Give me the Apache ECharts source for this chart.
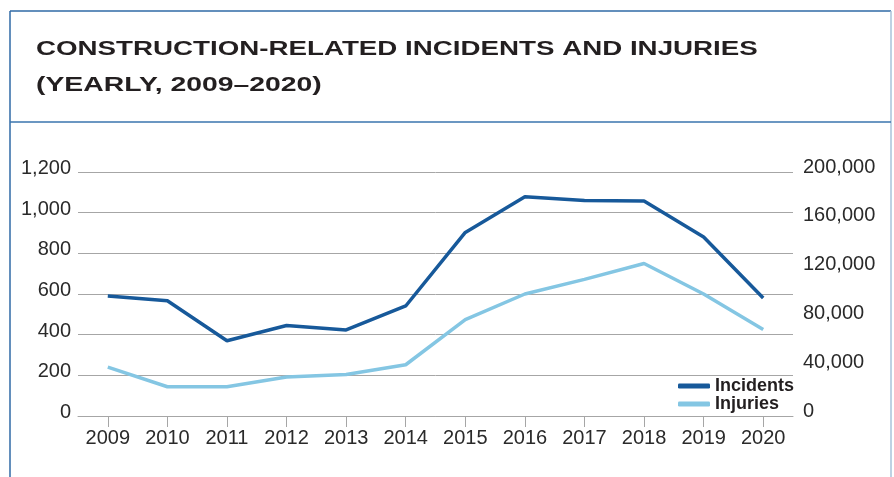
<!DOCTYPE html>
<html>
<head>
<meta charset="utf-8">
<title>Construction-related incidents and injuries</title>
<script src="https://cdn.jsdelivr.net/npm/echarts@6/dist/echarts.min.js"></script>
<style>
  html, body { margin: 0; padding: 0; background: #fff; }
  #chart { width: 894px; height: 477px; }
</style>
</head>
<body>
<div id="chart"></div>
<script>
// data
const years = ['2009', '2010', '2011', '2012', '2013', '2014', '2015', '2016', '2017', '2018', '2019', '2020'];
const incidents = [590, 567, 370, 445, 423, 541, 903, 1078, 1060, 1057, 880, 580];
const injuries = [40000, 24000, 24000, 32000, 34000, 42000, 79000, 100000, 112000, 125000, 100000, 71000];

const titleLines = ['CONSTRUCTION-RELATED INCIDENTS AND INJURIES', '(YEARLY, 2009\u20132020)'];

const darkBlue = '#17599a';
const lightBlue = '#84c6e3';
const textColor = '#2a2a2a';
const labelFont = '"Liberation Sans", Arial, sans-serif';

const chart = echarts.init(document.getElementById('chart'));

const fmt = v => Number(v).toLocaleString('en-US');

const option = {
  animation: false,
  backgroundColor: '#fff',
  graphic: [
    // frame around the card
    { type: 'line', shape: { x1: 10, y1: 11, x2: 891, y2: 11 }, style: { stroke: '#2f6aa6', lineWidth: 1.5 } },
    { type: 'line', shape: { x1: 10, y1: 11, x2: 10, y2: 477 }, style: { stroke: '#2f6aa6', lineWidth: 1.5 } },
    { type: 'line', shape: { x1: 891, y1: 11, x2: 891, y2: 477 }, style: { stroke: '#a9c3da', lineWidth: 1.5 } },
    { type: 'line', shape: { x1: 10, y1: 122, x2: 891, y2: 122 }, style: { stroke: '#3a74ae', lineWidth: 1.5 } },
    // title, stretched to look like the extended face in the original
    {
      type: 'text', x: 36, y: 49, scaleX: 1.32,
      style: { text: titleLines[0], fontSize: 21, fontWeight: 'bold', fontFamily: labelFont, fill: '#231f20', verticalAlign: 'middle' }
    },
    {
      type: 'text', x: 36, y: 85, scaleX: 1.35,
      style: { text: titleLines[1], fontSize: 21, fontWeight: 'bold', fontFamily: labelFont, fill: '#231f20', verticalAlign: 'middle' }
    }
  ],
  grid: { left: 78, right: 101, top: 172, bottom: 61, containLabel: false },
  legend: {
    data: ['Incidents', 'Injuries'],
    orient: 'vertical',
    left: 678,
    top: 377,
    padding: 0,
    itemGap: 0,
    itemWidth: 32,
    itemHeight: 5,
    icon: 'roundRect',
    textStyle: {
      fontFamily: labelFont,
      fontWeight: 'bold',
      fontSize: 18,
      lineHeight: 18,
      color: '#231f20'
    }
  },
  xAxis: {
    type: 'category',
    data: years,
    boundaryGap: true,
    axisLine: { show: true, lineStyle: { color: '#a6a6a6', width: 1 } },
    axisTick: { show: true, alignWithLabel: true, length: 11, lineStyle: { color: '#a6a6a6' } },
    axisLabel: { fontSize: 20, fontFamily: labelFont, color: textColor, margin: 12 }
  },
  yAxis: [
    {
      type: 'value', min: 0, max: 1200, interval: 200, position: 'left',
      axisLine: { show: false },
      axisTick: { show: false },
      splitLine: { lineStyle: { color: '#a6a6a6', width: 1 } },
      axisLabel: {
        fontSize: 20, fontFamily: labelFont, color: textColor, margin: 7,
        verticalAlign: 'bottom', lineHeight: 7,
        formatter: fmt
      }
    },
    {
      type: 'value', min: 0, max: 200000, interval: 40000, position: 'right',
      axisLine: { show: false },
      axisTick: { show: false },
      splitLine: { show: false },
      axisLabel: {
        fontSize: 20, fontFamily: labelFont, color: textColor, margin: 10,
        verticalAlign: 'bottom', lineHeight: 10,
        formatter: fmt
      }
    }
  ],
  series: [
    {
      name: 'Incidents',
      type: 'line',
      yAxisIndex: 0,
      data: incidents,
      showSymbol: false,
      symbol: 'none',
      itemStyle: { color: darkBlue },
      lineStyle: { color: darkBlue, width: 3.5 },
      z: 3
    },
    {
      name: 'Injuries',
      type: 'line',
      yAxisIndex: 1,
      data: injuries,
      showSymbol: false,
      symbol: 'none',
      itemStyle: { color: lightBlue },
      lineStyle: { color: lightBlue, width: 3.5 },
      z: 2
    }
  ]
};

chart.setOption(option);
window.addEventListener('resize', () => chart.resize());
</script>
</body>
</html>
